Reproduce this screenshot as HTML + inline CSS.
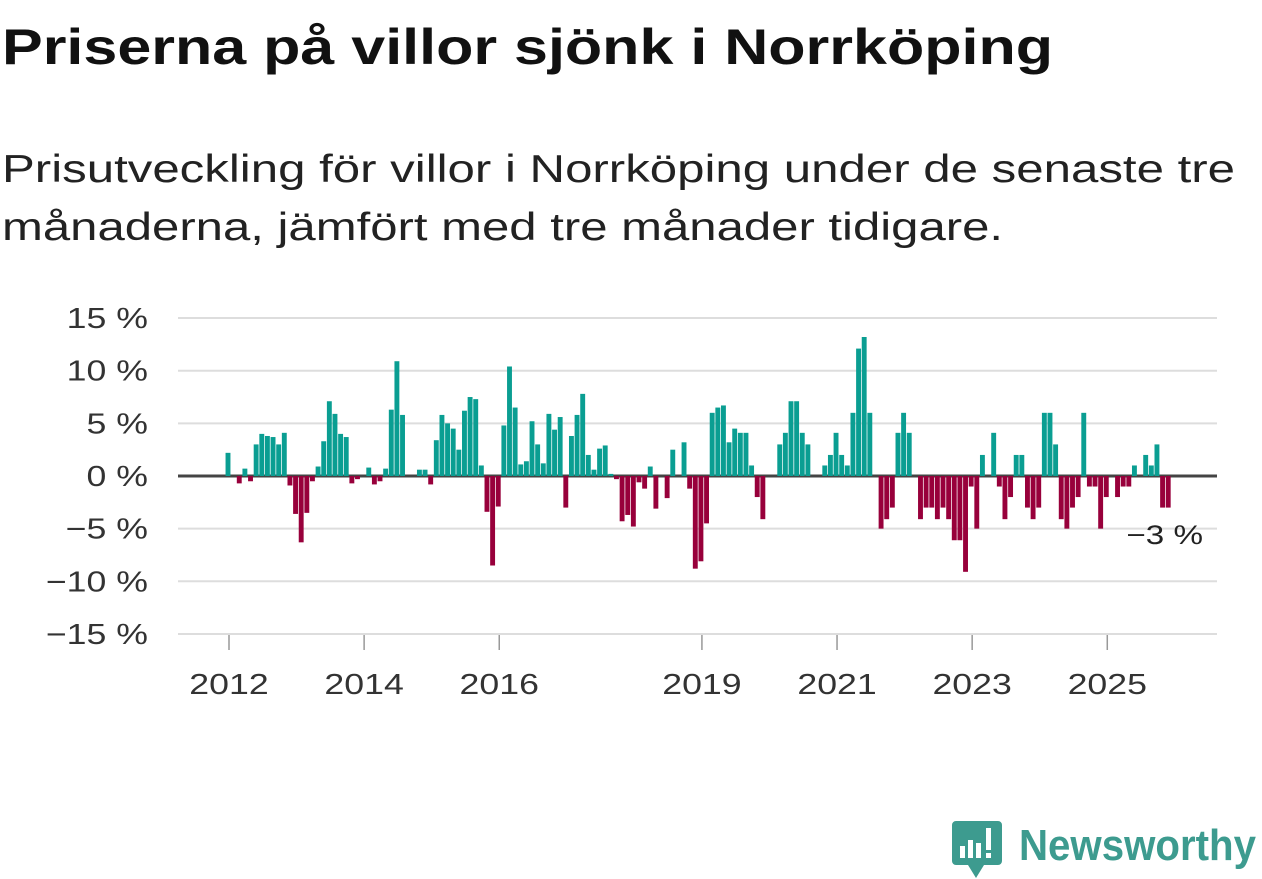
<!DOCTYPE html>
<html><head><meta charset="utf-8"><style>
html,body{margin:0;padding:0;background:#fff;}
svg{display:block;font-family:"Liberation Sans","DejaVu Sans",sans-serif;}
</style></head><body>
<svg id="chart" width="1262" height="879" viewBox="0 0 1262 879">
<text x="2" y="64" font-size="50" font-weight="bold" fill="#111" textLength="1051" lengthAdjust="spacingAndGlyphs">Priserna på villor sjönk i Norrköping</text>
<text x="2" y="182" font-size="39" fill="#222" textLength="1233" lengthAdjust="spacingAndGlyphs">Prisutveckling för villor i Norrköping under de senaste tre</text>
<text x="2" y="240" font-size="39" fill="#222" textLength="1001" lengthAdjust="spacingAndGlyphs">månaderna, jämfört med tre månader tidigare.</text>
<g id="grid"></g>
<g id="bars"></g>
<g id="xaxis"></g>
<g id="yaxis"></g>
<g>
<path d="M956 821 h42 a4 4 0 0 1 4 4 v36 a4 4 0 0 1 -4 4 h-14 l-8 13 l-8 -13 h-12 a4 4 0 0 1 -4 -4 v-36 a4 4 0 0 1 4 -4z" fill="#3d9b8f"/>
<rect x="960" y="846" width="5" height="12" fill="#fff"/>
<rect x="968" y="840" width="5" height="18" fill="#fff"/>
<rect x="976" y="843" width="5" height="15" fill="#fff"/>
<rect x="986" y="828" width="5" height="22" fill="#fff"/>
<rect x="986" y="853" width="5" height="5" fill="#fff"/>
<text x="1019" y="860" font-size="44" font-weight="bold" fill="#3d9b8f" textLength="237" lengthAdjust="spacingAndGlyphs">Newsworthy</text>
</g>
</svg>
<script>
const values = [2.2,0,-0.7,0.7,-0.5,3.0,4.0,3.8,3.7,3.0,4.1,-0.9,
-3.6,-6.3,-3.5,-0.5,0.9,3.3,7.1,5.9,4.0,3.7,-0.7,-0.3,
0,0.8,-0.8,-0.5,0.7,6.3,10.9,5.8,0,0,0.6,0.6,
-0.8,3.4,5.8,5.0,4.5,2.5,6.2,7.5,7.3,1.0,-3.4,-8.5,
-2.9,4.8,10.4,6.5,1.1,1.4,5.2,3.0,1.2,5.9,4.4,5.6,
-3.0,3.8,5.8,7.8,2.0,0.6,2.6,2.9,0.2,-0.3,-4.3,-3.7,
-4.8,-0.6,-1.2,0.9,-3.1,0,-2.1,2.5,0,3.2,-1.2,-8.8,
-8.1,-4.5,6.0,6.5,6.7,3.2,4.5,4.1,4.1,1.0,-2.0,-4.1,
0,0,3.0,4.1,7.1,7.1,4.1,3.0,0,0,1.0,2.0,
4.1,2.0,1.0,6.0,12.1,13.2,6.0,0,-5.0,-4.1,-3.0,4.1,
6.0,4.1,0,-4.1,-3,-3,-4.1,-3,-4.1,-6.1,-6.1,-9.1,
-1,-5,2,0,4.1,-1,-4.1,-2,2,2,-3,-4.1,
-3,6,6,3,-4.1,-5,-3,-2,6,-1,-1,-5,
-2,0,-2,-1,-1,1,0,2,1,3,-3,-3];
const yTicks = [15,10,5,0,-5,-10,-15];
const yTickLabels = ["15 %","10 %","5 %","0 %","\u22125 %","\u221210 %","\u221215 %"];
const xTickMonths = [0,24,48,84,108,132,156];
const xTickLabels = ["2012","2014","2016","2019","2021","2023","2025"];
const lastLabel = "\u22123 %";

const NS="http://www.w3.org/2000/svg";
const x0=228, mw=5.63, y0=476, pp=10.53, WIDEN=1.23;
const X=m=>x0+m*mw;
const Y=v=>y0-v*pp;
function mk(tag,attrs,parent){const e=document.createElementNS(NS,tag);for(const k in attrs)e.setAttribute(k,attrs[k]);parent.appendChild(e);return e;}
function widen(t){const w=t.getComputedTextLength();t.setAttribute('textLength',w*WIDEN);t.setAttribute('lengthAdjust','spacingAndGlyphs');}
const grid=document.getElementById('grid'),bars=document.getElementById('bars'),xa=document.getElementById('xaxis'),ya=document.getElementById('yaxis');
yTicks.forEach((t,i)=>{
  if(t!==0){const l=mk('line',{x1:178,x2:1217,y1:Y(t),y2:Y(t),stroke:'#dddddd','stroke-width':2},grid);
  
  }
  const tx=mk('text',{x:148,y:Y(t)+10,'font-size':29,fill:'#333','text-anchor':'end'},ya);
  tx.textContent=yTickLabels[i];
  
  
  widen(tx);
});
values.forEach((v,i)=>{
  if(v===0)return;
  const r=mk('rect',{x:X(i)-2.45,width:4.9,y:Math.min(Y(v),y0),height:Math.abs(v)*pp,fill:v>0?'#0a9e92':'#98003b'},bars);
  
  
});
const zl=mk('line',{x1:178,x2:1217,y1:y0,y2:y0,stroke:'#444','stroke-width':3},grid);


xTickMonths.forEach((m,i)=>{
  const tk=mk('line',{x1:X(m)+1,x2:X(m)+1,y1:635,y2:650,stroke:'#999','stroke-width':1.5},xa);
  
  
  const tx=mk('text',{x:X(m)+1,y:694,'font-size':29,fill:'#333','text-anchor':'middle'},xa);
  tx.textContent=xTickLabels[i];
  
  
  widen(tx);
});
const ll=mk('text',{x:1203,y:544,'font-size':27,fill:'#222','text-anchor':'end'},bars);
ll.textContent=lastLabel;


widen(ll);
</script>
</body></html>
